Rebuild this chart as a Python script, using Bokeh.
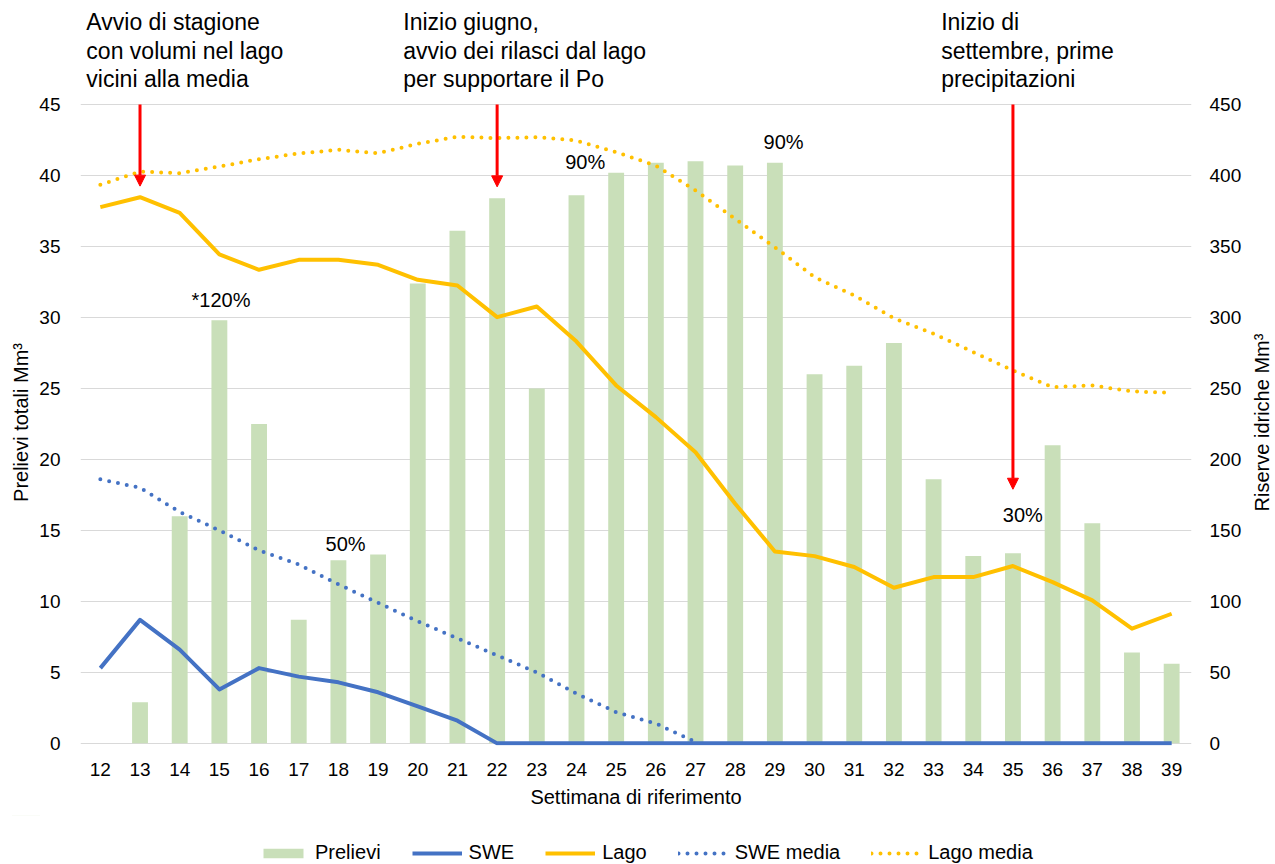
import math
from bokeh.plotting import figure
from bokeh.layouts import column, row
from bokeh.models import (Range1d, LinearAxis, FixedTicker, Label, Arrow, NormalHead,
                          Legend, LegendItem, ColumnDataSource)
from bokeh.embed import file_html
from bokeh.resources import INLINE

# ---------------- data ----------------
weeks = list(range(12, 40))
prelievi = [0, 2.9, 16.0, 29.8, 22.5, 8.7, 12.9, 13.3, 32.4, 36.1, 38.4, 25.0, 38.6, 40.2,
            40.9, 41.0, 40.7, 40.9, 26.0, 26.6, 28.2, 18.6, 13.2, 13.4, 21.0, 15.5, 6.4, 5.6]
swe = [5.3, 8.7, 6.6, 3.8, 5.3, 4.7, 4.3, 3.6, 2.6, 1.6, 0, 0, 0, 0,
       0, 0, 0, 0, 0, 0, 0, 0, 0, 0, 0, 0, 0, 0]
swe_media = [18.6, 18.0, 16.3, 15.0, 13.6, 12.6, 11.2, 9.9, 8.6, 7.4, 6.2, 5.0, 3.5, 2.2,
             1.4, 0.1, None, None, None, None, None, None, None, None, None, None, None, None]
lago = [377.7, 384.7, 373.7, 344.4, 333.6, 340.6, 340.6, 337.1, 326.5, 322.5, 300.2, 307.7,
        283.0, 252.1, 229.8, 205.1, 168.8, 135.2, 131.9, 124.2, 109.6, 117.1, 117.1, 124.9,
        113.6, 100.7, 80.8, 91.3]
lago_media = [393.4, 402.8, 401.6, 406.3, 411.5, 415.5, 418.1, 415.7, 422.3, 427.3, 426.3,
              427.0, 424.6, 416.4, 407.0, 389.4, 369.5, 349.5, 328.4, 315.5, 299.5, 288.5,
              275.6, 262.7, 250.9, 252.1, 247.9, 247.0]

left_ticks = [0, 5, 10, 15, 20, 25, 30, 35, 40, 45]
right_ticks = [0, 50, 100, 150, 200, 250, 300, 350, 400, 450]

series_names = ["Prelievi", "SWE", "Lago", "SWE media", "Lago media"]
left_title = "Prelievi totali Mm³"
right_title = "Riserve idriche Mm³"
x_title = "Settimana di riferimento"

# annotations (text notes, arrows, percentage labels)
note_weeks = [11.648, 19.634, 33.19]
note_lines = [["Avvio di stagione", "con volumi nel lago", "vicini alla media"],
              ["Inizio giugno,", "avvio dei rilasci dal lago", "per supportare il Po"],
              ["Inizio di", "settembre, prime", "precipitazioni"]]
note_line_y = [50.82, 48.78, 46.78]
arrow_weeks = [13, 22, 35]
arrow_tips = [39.25, 39.2, 17.9]
pct_x = [15.04, 18.18, 24.22, 29.22, 35.25]
pct_y = [31.2, 14.05, 40.95, 42.36, 16.1]
pct_text = ["*120%", "50%", "90%", "90%", "30%"]

# ---------------- styles ----------------
FONT = "Liberation Sans"
C_BAR = "#c9dfb9"
C_BLUE = "#4472c4"
C_GOLD = "#ffc000"
C_RED = "#ff0000"
C_GRID = "#d9d9d9"

LEFT_W = 36
MAIN_W, MAIN_H = 1214, 815
SIDE_W = 1275 - LEFT_W - MAIN_W
LEG_H = 864 - MAIN_H
FRAME_BOTTOM = 745

src = ColumnDataSource(dict(week=weeks, prelievi=prelievi, swe=swe,
                            swe_media=[float('nan') if v is None else v for v in swe_media],
                            lago=lago, lago_media=lago_media))

# main figure: frame spans from the top (notes area) down to the zero line
p = figure(width=MAIN_W, height=MAIN_H, x_range=Range1d(11.5, 39.5),
           y_range=Range1d(-0.15, 52.326), output_backend="svg", toolbar_location=None,
           min_border_left=78 - LEFT_W, min_border_right=59, min_border_top=0,
           min_border_bottom=MAIN_H - FRAME_BOTTOM)
p.extra_y_ranges = {"right": Range1d(-1.5, 523.26)}
p.outline_line_color = None

p.xaxis.ticker = FixedTicker(ticks=weeks)
p.yaxis.ticker = FixedTicker(ticks=left_ticks)
raxis = LinearAxis(y_range_name="right", ticker=FixedTicker(ticks=right_ticks))
p.add_layout(raxis, "right")
for ax in [p.xaxis[0], p.yaxis[0], raxis]:
    ax.axis_line_color = None
    ax.major_tick_line_color = None
    ax.minor_tick_line_color = None
    ax.major_tick_out = 0
    ax.major_tick_in = 0
    ax.major_label_text_font = FONT
    ax.major_label_text_font_size = "19px"
    ax.major_label_text_color = "#000000"
    ax.axis_label_text_font = FONT
    ax.axis_label_text_font_size = "20px"
    ax.axis_label_text_font_style = "normal"
    ax.axis_label_text_color = "#000000"
p.xaxis.major_label_standoff = 17
p.xaxis.axis_label = x_title
p.xaxis.axis_label_standoff = 7
p.yaxis[0].major_label_standoff = 20
raxis.major_label_standoff = 18

p.xgrid.visible = False
p.ygrid.ticker = FixedTicker(ticks=left_ticks)
p.ygrid.grid_line_color = C_GRID
p.ygrid.grid_line_width = 1

bar_style = dict(fill_color=C_BAR, line_color=None)
swe_style = dict(line_color=C_BLUE, line_width=4, line_join="round")
lago_style = dict(line_color=C_GOLD, line_width=4, line_join="round")
swem_style = dict(line_color=C_BLUE, line_width=4, line_dash="0 9", line_cap="round")
lagom_style = dict(line_color=C_GOLD, line_width=4, line_dash="0 9", line_cap="round")

p.vbar(x="week", top="prelievi", width=0.4, source=src, **bar_style)
p.line("week", "swe_media", source=src, **swem_style)
p.line("week", "lago_media", source=src, y_range_name="right", **lagom_style)
p.line("week", "lago", source=src, y_range_name="right", **lago_style)
p.line("week", "swe", source=src, **swe_style)

for xw, yt in zip(arrow_weeks, arrow_tips):
    p.add_layout(Arrow(end=NormalHead(size=11, fill_color=C_RED, line_color=C_RED, line_width=1),
                       x_start=xw, y_start=45, x_end=xw, y_end=yt,
                       line_color=C_RED, line_width=3))

for xw, lines in zip(note_weeks, note_lines):
    for txt, yy in zip(lines, note_line_y):
        p.add_layout(Label(x=xw, y=yy, text=txt, text_font=FONT, text_font_size="23px",
                           text_color="#000000", text_align="left", text_baseline="alphabetic"))

for xx, yy, t in zip(pct_x, pct_y, pct_text):
    p.add_layout(Label(x=xx, y=yy, text=t, text_font=FONT, text_font_size="20px",
                       text_color="#000000", text_align="center", text_baseline="alphabetic"))


def title_strip(width, x0, x_anchor, text):
    """Narrow strip whose frame is aligned with the main frame (page y 0..745),
    so its data units equal page pixels; carries a vertical axis title."""
    f = figure(width=width, height=MAIN_H, x_range=Range1d(x0, x0 + width),
               y_range=Range1d(FRAME_BOTTOM, 0), output_backend="svg", toolbar_location=None,
               min_border=0, x_axis_location=None, y_axis_location=None)
    f.outline_line_color = None
    f.grid.visible = False
    f.add_layout(Label(x=x_anchor, y=422, text=text, angle=math.pi / 2, text_font=FONT,
                       text_font_size="20px", text_align="center", text_baseline="alphabetic",
                       text_color="#000000"))
    return f


left_strip = title_strip(LEFT_W, 0, 20.5, left_title)
side = title_strip(SIDE_W, LEFT_W + MAIN_W, 1261, right_title)

# bottom strip carrying the legend (the data lies outside its view; only the keys show)
leg = figure(width=1275, height=LEG_H, x_range=Range1d(0, 1275), y_range=Range1d(864, MAIN_H),
             output_backend="svg", toolbar_location=None, min_border=0,
             x_axis_location=None, y_axis_location=None)
leg.outline_line_color = None
leg.grid.visible = False
g_bar = leg.vbar(x="week", top="prelievi", width=0.4, source=src, **bar_style)
g_swe = leg.line("week", "swe", source=src, **swe_style)
g_lago = leg.line("week", "lago", source=src, **lago_style)
g_swem = leg.line("week", "swe_media", source=src, **swem_style)
g_lagom = leg.line("week", "lago_media", source=src, **lagom_style)
legend = Legend(items=[LegendItem(label=n, renderers=[r]) for n, r in
                       zip(series_names, [g_bar, g_swe, g_lago, g_swem, g_lagom])],
                location=(258, 0), orientation="horizontal", glyph_width=50, glyph_height=12,
                label_standoff=7, spacing=31, padding=0, margin=0, border_line_color=None,
                background_fill_alpha=0, label_text_font=FONT, label_text_font_size="20px",
                label_text_color="#000000")
leg.add_layout(legend, "center")

layout = column(row(left_strip, p, side, spacing=0), leg, spacing=0)
open("out.html", "w").write(file_html(layout, INLINE))
